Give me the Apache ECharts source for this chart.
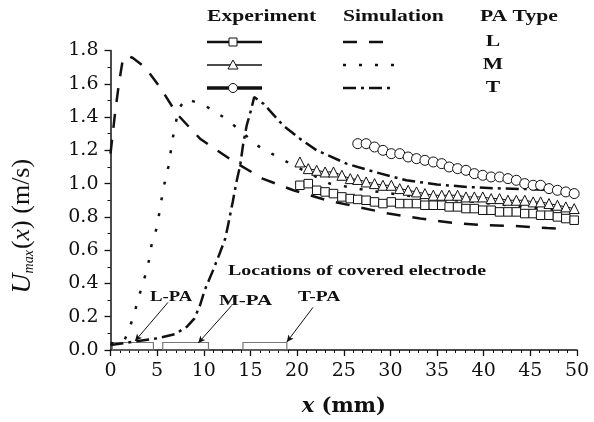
<!DOCTYPE html>
<html>
<head>
<meta charset="utf-8">
<script src="https://cdn.jsdelivr.net/npm/echarts@6/dist/echarts.min.js"></script>
<style>html,body{margin:0;padding:0;background:#fff}#c{width:594px;height:422px}</style>
</head>
<body>
<div id="c"></div>
<script>
// ---- data (x in mm, U in m/s) ----
const expX_L = [20.3,21.2,22.1,23.0,23.9,24.8,25.7,26.5,27.4,28.3,29.2,30.1,31.0,31.9,32.8,33.7,34.6,35.5,36.3,37.2,38.1,39.0,39.9,40.8,41.7,42.6,43.5,44.4,45.3,46.1,47.0,47.9,48.8,49.7];
const expU_L = [0.99,1.00,0.96,0.95,0.94,0.92,0.91,0.905,0.90,0.89,0.88,0.89,0.88,0.88,0.88,0.87,0.87,0.87,0.86,0.86,0.85,0.85,0.84,0.84,0.83,0.83,0.83,0.82,0.82,0.81,0.81,0.80,0.79,0.78];
const expX_M = [20.3,21.2,22.1,23.0,23.9,24.8,25.7,26.5,27.4,28.3,29.2,30.1,31.0,31.9,32.8,33.7,34.6,35.5,36.3,37.2,38.1,39.0,39.9,40.8,41.7,42.6,43.5,44.4,45.3,46.1,47.0,47.9,48.8,49.7];
const expU_M = [1.13,1.09,1.08,1.07,1.07,1.05,1.03,1.025,1.01,1.00,0.99,0.99,0.97,0.96,0.95,0.94,0.93,0.93,0.93,0.93,0.92,0.92,0.92,0.91,0.91,0.90,0.90,0.90,0.89,0.89,0.88,0.87,0.86,0.85];
const expX_T = [26.5,27.4,28.3,29.2,30.1,31.0,31.9,32.8,33.7,34.6,35.5,36.3,37.2,38.1,39.0,39.9,40.8,41.7,42.6,43.5,44.4,45.3,46.1,47.0,47.9,48.8,49.7];
const expU_T = [1.24,1.24,1.22,1.20,1.18,1.18,1.16,1.15,1.14,1.13,1.12,1.10,1.09,1.08,1.06,1.05,1.04,1.04,1.03,1.02,1.00,0.99,0.99,0.97,0.96,0.95,0.94];

const simX_L = [0,0.5,0.9,1.3,1.8,2.4,3.7,5.3,7.1,9.6,13.0,16.3,19.6,23.2,26.5,29.8,33.2,36.6,40.0,43.4,46.8,48.0];
const simU_L = [1.18,1.43,1.60,1.74,1.77,1.755,1.70,1.58,1.42,1.27,1.14,1.03,0.96,0.90,0.86,0.82,0.79,0.765,0.75,0.745,0.733,0.73];
const simX_M = [0,1.0,1.5,1.9,2.45,2.9,3.35,3.9,4.2,4.45,5.0,5.3,5.7,6.2,6.7,7.3,8.1,10.1,12.1,13.9,15.7,17.6,19.6,23.5,27.5,31.4,35.0,39.0,42.6,46.4,48.0];
const simU_M = [0.04,0.04,0.06,0.11,0.20,0.29,0.38,0.48,0.56,0.65,0.74,0.85,0.98,1.10,1.28,1.45,1.51,1.47,1.40,1.32,1.23,1.17,1.11,1.00,0.96,0.93,0.91,0.89,0.87,0.85,0.84];
const simX_T = [0,5.0,6.9,8.2,9.0,9.6,10.1,11.0,11.7,12.3,12.6,13.1,13.5,13.9,14.2,14.6,15.1,15.4,16.4,18.5,20.3,22.1,25.3,28.3,31.7,35.0,38.2,41.2,44.6,48.0];
const simU_T = [0.03,0.07,0.095,0.14,0.19,0.27,0.36,0.48,0.58,0.67,0.75,0.89,1.01,1.11,1.23,1.35,1.45,1.52,1.48,1.35,1.27,1.20,1.12,1.07,1.02,0.995,0.98,0.972,0.967,0.96];

const xTicks = [0,5,10,15,20,25,30,35,40,45,50];
const yTicks = [0.0,0.2,0.4,0.6,0.8,1.0,1.2,1.4,1.6,1.8];
const paTypes = ['L','M','T'];

const zip = (xs, ys) => xs.map((x, i) => [x, ys[i]]);
const F = 'Liberation Serif, Times New Roman, serif';
const D = 'DejaVu Serif, serif';
const K = '#111';

const chart = echarts.init(document.getElementById('c'), null, {renderer: 'canvas'});

const expStyle = (sym, size) => ({
  type: 'line', symbol: sym, symbolSize: size, showSymbol: true,
  lineStyle: {color: K, width: 1},
  itemStyle: {color: '#fff', borderColor: K, borderWidth: 1},
  z: 5, animation: false
});
const simStyle = (dash) => ({
  type: 'line', symbol: 'none', smooth: false,
  lineStyle: {color: K, width: 2.5, type: dash, cap: 'butt'},
  z: 3, animation: false
});

// legend graphics
const legX1 = 207, legX2 = 262, legS1 = 343, legS2 = 395, legP = 493;
const rowsY = [42, 65, 88];
const dashes = [[14, 12], [3, 13], [13, 5, 3, 5]];
const SX = 1.35;
const g = [];
const txt = (x, y, s, size, align, sx) => ({
  type: 'text', x: x, y: y, scaleX: sx, scaleY: 1,
  style: {text: s, font: 'bold ' + size + 'px ' + F, fill: K, align: align, verticalAlign: 'middle'}
});
g.push(txt(207, 17, 'Experiment', 16, 'left', SX));
g.push(txt(343, 17, 'Simulation', 16, 'left', SX));
g.push(txt(480, 17, 'PA Type', 16, 'left', SX));
rowsY.forEach((y, i) => {
  const w = i === 1 ? 1.3 : (i === 0 ? 2.4 : 3.5);
  g.push({type:'line', shape:{x1:legX1, y1:y, x2:legX2, y2:y}, style:{stroke:K, lineWidth:w}});
  const mx = 233;
  if (i === 0) g.push({type:'rect', shape:{x:mx-4, y:y-4, width:8, height:8}, style:{fill:'#fff', stroke:K, lineWidth:1}, z: 10});
  if (i === 1) g.push({type:'polygon', shape:{points:[[mx, y-5],[mx-5, y+4],[mx+5, y+4]]}, style:{fill:'#fff', stroke:K, lineWidth:1}, z: 10});
  if (i === 2) g.push({type:'circle', shape:{cx:mx, cy:y, r:4.5}, style:{fill:'#fff', stroke:K, lineWidth:1}, z: 10});
  g.push({type:'line', shape:{x1:legS1, y1:y, x2:legS2, y2:y}, style:{stroke:K, lineWidth:2.5, lineDash:dashes[i]}});
  g.push(txt(legP, y, paTypes[i], 16, 'center', SX));
});
// annotation texts
g.push(txt(228, 271, 'Locations of covered electrode', 15, 'left', 1.33));
g.push(txt(150, 297, 'L-PA', 15, 'left', 1.25));
g.push(txt(219, 301, 'M-PA', 15, 'left', 1.4));
g.push(txt(298, 297, 'T-PA', 15, 'left', 1.3));

const option = {
  backgroundColor: '#fff',
  animation: false,
  grid: {left: 110.5, right: 17, top: 50.5, bottom: 69},
  xAxis: {
    type: 'value', min: 0, max: 50, interval: 5,
    axisLine: {show: true, lineStyle: {color: K, width: 1.5}},
    axisTick: {show: true, length: 6, lineStyle: {color: K, width: 1.3}},
    minorTick: {show: true, splitNumber: 5, length: 3, lineStyle: {color: K, width: 1}},
    splitLine: {show: false},
    axisLabel: {color: K, fontFamily: D, fontSize: 19, margin: 12,
      formatter: v => xTicks.includes(v) ? String(v) : ''},
    name: '{i|x} (mm)', nameLocation: 'middle', nameGap: 46,
    nameTextStyle: {color: K, fontFamily: D, fontSize: 21, fontWeight: 'bold',
      rich: {i: {fontStyle: 'italic', fontFamily: D, fontSize: 21, fontWeight: 'bold', color: K}}}
  },
  yAxis: {
    type: 'value', min: 0, max: 1.8, interval: 0.2,
    axisLine: {show: true, lineStyle: {color: K, width: 1.5}},
    axisTick: {show: true, length: 6, lineStyle: {color: K, width: 1.3}},
    minorTick: {show: true, splitNumber: 2, length: 3, lineStyle: {color: K, width: 1}},
    splitLine: {show: false},
    axisLabel: {color: K, fontFamily: D, fontSize: 19, margin: 12,
      formatter: v => yTicks.some(t => Math.abs(t - v) < 1e-6) ? v.toFixed(1) : ''},
    name: '{u|U}{s|max}{t|(}{i|x}{t|) (m/s)}', nameLocation: 'middle', nameGap: 74, nameRotate: 90,
    nameTextStyle: {color: K, fontFamily: F, fontSize: 26, padding: [0, 52, 0, 0],
      rich: {
        u: {fontStyle: 'italic', fontFamily: F, fontSize: 28, color: K},
        s: {fontStyle: 'italic', fontFamily: F, fontSize: 14, color: K, verticalAlign: 'bottom', padding: [12, 1, 0, 0]},
        t: {fontFamily: F, fontSize: 26, color: K},
        i: {fontStyle: 'italic', fontFamily: F, fontSize: 26, color: K}
      }}
  },
  graphic: g,
  series: [
    Object.assign(simStyle(dashes[0]), {name: 'Sim L', data: zip(simX_L, simU_L),
      markArea: {silent: true, itemStyle: {color: 'rgba(255,255,255,0)', borderColor: '#777', borderWidth: 1.2},
        data: [
          [{coord: [0.2, 0]}, {coord: [4.6, 0.045]}],
          [{coord: [5.6, 0]}, {coord: [10.5, 0.045]}],
          [{coord: [14.2, 0]}, {coord: [18.9, 0.045]}]
        ]},
      markLine: {silent: true, symbol: ['none', 'arrow'], symbolSize: [5, 7],
        lineStyle: {color: K, width: 1, type: 'solid'}, label: {show: false},
        data: [
          [{coord: [6.16, 0.286]}, {coord: [2.63, 0.054]}],
          [{coord: [13.0, 0.268]}, {coord: [9.4, 0.042]}],
          [{coord: [21.7, 0.256]}, {coord: [18.9, 0.048]}]
        ]}
    }),
    Object.assign(simStyle(dashes[1]), {name: 'Sim M', data: zip(simX_M, simU_M)}),
    Object.assign(simStyle(dashes[2]), {name: 'Sim T', data: zip(simX_T, simU_T)}),
    Object.assign(expStyle('rect', 8.5), {name: 'Exp L', data: zip(expX_L, expU_L)}),
    Object.assign(expStyle('triangle', 10), {name: 'Exp M', data: zip(expX_M, expU_M)}),
    Object.assign(expStyle('circle', 10), {name: 'Exp T', data: zip(expX_T, expU_T)})
  ]
};
chart.setOption(option);
</script>
</body>
</html>
